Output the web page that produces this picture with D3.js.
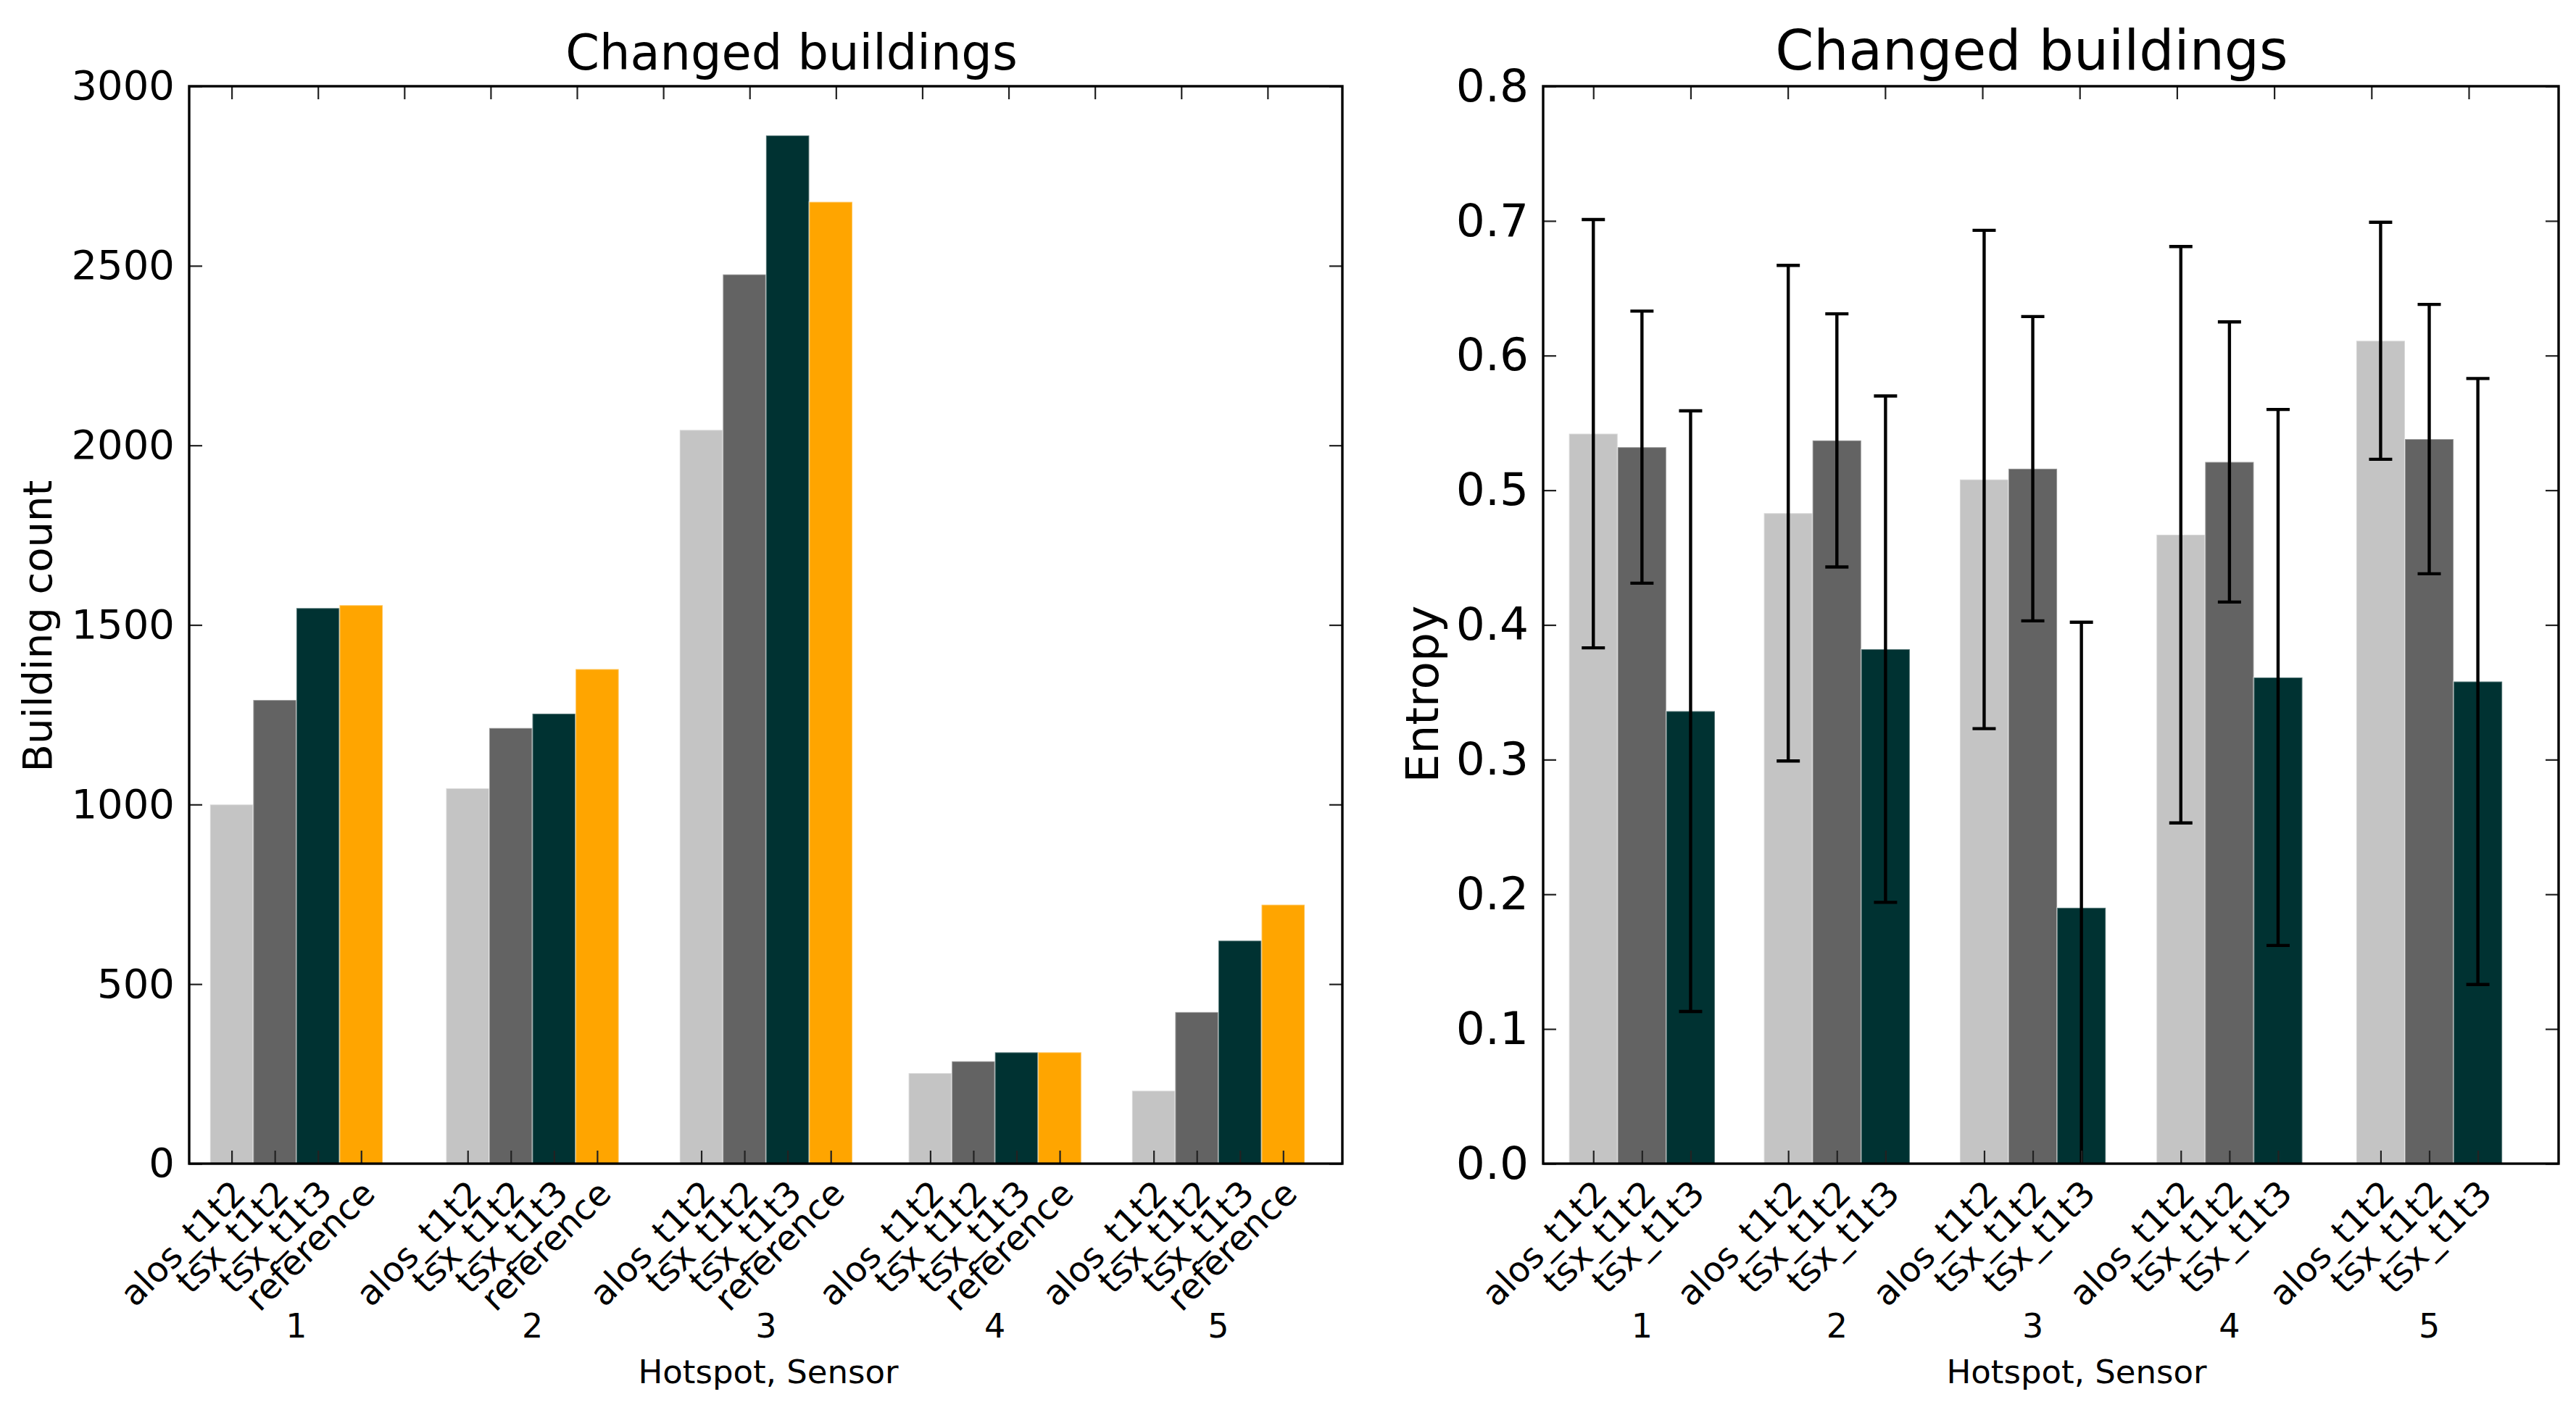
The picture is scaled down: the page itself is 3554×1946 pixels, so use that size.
<!DOCTYPE html>
<html>
<head>
<meta charset="utf-8">
<script src="https://cdn.jsdelivr.net/npm/d3@7"></script>
<style>
  body { margin: 0; background: #ffffff; }
  text { font-family: "DejaVu Sans", sans-serif; fill: #000; }
</style>
</head>
<body>
<div id="chart"></div>
<script>
// Data
const HOTSPOTS = ["1", "2", "3", "4", "5"];
const SENSORS_COUNT = ["alos_t1t2", "tsx_t1t2", "tsx_t1t3", "reference"];
const SENSORS_ENTROPY = ["alos_t1t2", "tsx_t1t2", "tsx_t1t3"];

// Building counts per hotspot
const COUNT_ALOS_T1T2 = [1000, 1045, 2043, 252, 203];
const COUNT_TSX_T1T2 = [1291, 1213, 2476, 285, 422];
const COUNT_TSX_T1T3 = [1547, 1253, 2863, 310, 621];
const COUNT_REFERENCE = [1555, 1377, 2678, 310, 721];

// Entropy mean and spread per hotspot
const ENTROPY_ALOS_T1T2 = [0.542, 0.483, 0.508, 0.467, 0.611];
const ENTROPY_TSX_T1T2 = [0.532, 0.537, 0.516, 0.521, 0.538];
const ENTROPY_TSX_T1T3 = [0.336, 0.382, 0.190, 0.361, 0.358];
const ERR_ALOS_T1T2 = [0.159, 0.184, 0.185, 0.214, 0.088];
const ERR_TSX_T1T2 = [0.101, 0.094, 0.113, 0.104, 0.100];
const ERR_TSX_T1T3 = [0.223, 0.188, 0.212, 0.199, 0.225];

// x position (data units) of the first bar of every hotspot group
const HOTSPOT_X_COUNT = [0, 1.367, 2.720, 4.046, 5.340];
const HOTSPOT_X_ENTROPY = [0, 1.002, 2.009, 3.020, 4.047];

// Axis ticks
const COUNT_TICKS = [0, 500, 1000, 1500, 2000, 2500, 3000];
const ENTROPY_TICKS = [0.0, 0.1, 0.2, 0.3, 0.4, 0.5, 0.6, 0.7, 0.8];

// Frame and style settings
const FRAME_WIDTH = 3554;
const FRAME_HEIGHT = 1946;
const BAR_WIDTH = 0.25;
const COLORS = ["#c4c4c4", "#636363", "#003232", "#ffa500"];
const TICK_LEN = 18;

const SVG = d3.select("#chart")
  .append("svg")
    .attr("width", FRAME_WIDTH)
    .attr("height", FRAME_HEIGHT);

function drawPanel(p) {
  const X = d3.scaleLinear().domain(p.xDomain).range([p.left, p.right]);
  const Y = d3.scaleLinear().domain(p.yDomain).range([p.bottom, p.top]);

  const g = SVG.append("g");

  // clip for error bars running below zero
  const clipId = "clip" + p.id;
  g.append("clipPath").attr("id", clipId)
    .append("rect")
      .attr("x", p.left).attr("y", p.top)
      .attr("width", p.right - p.left).attr("height", p.bottom - p.top);

  // flatten the series into bar records
  const bars = [];
  p.series.forEach((s, si) => {
    s.values.forEach((v, hi) => {
      bars.push({
        si: si, hi: hi, value: v,
        err: s.err ? s.err[hi] : null,
        cx: p.groupX[hi] + si * BAR_WIDTH,
        label: p.sensors[si]
      });
    });
  });

  g.selectAll("rect.bar")
    .data(bars)
    .enter()
    .append("rect")
      .attr("class", "bar")
      .attr("x", d => X(d.cx - BAR_WIDTH / 2))
      .attr("width", d => X(d.cx + BAR_WIDTH / 2) - X(d.cx - BAR_WIDTH / 2))
      .attr("y", d => Y(d.value))
      .attr("height", d => Y(0) - Y(d.value))
      .attr("fill", d => COLORS[d.si])
      .attr("stroke", "rgba(255,255,255,0.35)")
      .attr("stroke-width", 2);

  // error bars
  const errBars = bars.filter(d => d.err !== null);
  const eg = g.append("g").attr("clip-path", "url(#" + clipId + ")")
    .attr("stroke", "#000").attr("stroke-width", 4.4);
  eg.selectAll("line.err")
    .data(errBars).enter().append("line")
      .attr("x1", d => X(d.cx)).attr("x2", d => X(d.cx))
      .attr("y1", d => Y(d.value - d.err)).attr("y2", d => Y(d.value + d.err));
  eg.selectAll("line.capTop")
    .data(errBars).enter().append("line")
      .attr("x1", d => X(d.cx) - 16).attr("x2", d => X(d.cx) + 16)
      .attr("y1", d => Y(d.value + d.err)).attr("y2", d => Y(d.value + d.err));
  eg.selectAll("line.capBot")
    .data(errBars).enter().append("line")
      .attr("x1", d => X(d.cx) - 16).attr("x2", d => X(d.cx) + 16)
      .attr("y1", d => Y(d.value - d.err)).attr("y2", d => Y(d.value - d.err));

  // y axes (left with labels, right ticks only)
  const yLeft = g.append("g")
    .attr("transform", "translate(" + p.left + ",0)")
    .call(d3.axisLeft(Y).tickValues(p.yTicks).tickSize(-TICK_LEN).tickPadding(20)
      .tickFormat(p.yFormat));
  yLeft.selectAll("text").attr("font-size", p.tickFont + "px")
    .attr("font-family", "DejaVu Sans").attr("fill", "#000");

  g.append("g")
    .attr("transform", "translate(" + p.right + ",0)")
    .call(d3.axisRight(Y).tickValues(p.yTicks).tickSize(-TICK_LEN).tickFormat(""));

  // top axis, plain half-unit ticks
  g.append("g")
    .attr("transform", "translate(0," + p.top + ")")
    .call(d3.axisTop(X).tickValues(d3.range(0, p.xDomain[1], 0.5))
      .tickSize(-TICK_LEN).tickFormat(""));

  // bottom axis, one tick per bar
  g.append("g")
    .attr("transform", "translate(0," + p.bottom + ")")
    .call(d3.axisBottom(X).tickValues(bars.map(d => d.cx))
      .tickSize(-TICK_LEN).tickFormat(""));

  g.selectAll(".domain").remove();
  g.selectAll(".tick line").attr("stroke", "#222").attr("stroke-width", 2.2);

  // frame
  g.append("rect")
    .attr("x", p.left).attr("y", p.top)
    .attr("width", p.right - p.left).attr("height", p.bottom - p.top)
    .attr("fill", "none").attr("stroke", "#000").attr("stroke-width", 3.4);

  // rotated sensor labels
  g.selectAll("text.sensor")
    .data(bars).enter().append("text")
      .attr("class", "sensor")
      .attr("text-anchor", "end")
      .attr("font-size", "48px")
      .attr("transform", d => "translate(" + (X(d.cx) + 22) + "," + (p.bottom + 44) + ") rotate(-45)")
      .text(d => d.label);

  // hotspot numbers
  g.selectAll("text.hotspot")
    .data(HOTSPOTS).enter().append("text")
      .attr("class", "hotspot")
      .attr("text-anchor", "middle")
      .attr("font-size", "46px")
      .attr("x", (d, i) => X(p.groupX[i] + (p.series.length - 1) * BAR_WIDTH / 2))
      .attr("y", 1846)
      .text(d => d);

  g.append("text")
    .attr("text-anchor", "middle").attr("font-size", "45px")
    .attr("x", p.xLabelX).attr("y", 1909)
    .text("Hotspot, Sensor");

  g.append("text")
    .attr("text-anchor", "middle").attr("font-size", p.titleFont + "px")
    .attr("x", p.titleX).attr("y", 96)
    .text("Changed buildings");

  g.append("text")
    .attr("text-anchor", "middle").attr("font-size", p.tickFont + "px")
    .attr("transform", "translate(" + p.yLabelX + "," + p.yLabelY + ") rotate(-90)")
    .text(p.yLabel);
}

drawPanel({
  id: "count",
  left: 261, right: 1852, top: 119, bottom: 1606,
  xDomain: [-0.246, 6.433], yDomain: [0, 3000],
  yTicks: COUNT_TICKS, yFormat: d3.format("d"),
  groupX: HOTSPOT_X_COUNT, sensors: SENSORS_COUNT,
  series: [
    {values: COUNT_ALOS_T1T2},
    {values: COUNT_TSX_T1T2},
    {values: COUNT_TSX_T1T3},
    {values: COUNT_REFERENCE}
  ],
  tickFont: 56, titleFont: 67, titleX: 1092,
  xLabelX: 1060, yLabel: "Building count", yLabelX: 71, yLabelY: 864
});

drawPanel({
  id: "entropy",
  left: 2129, right: 3530, top: 119, bottom: 1606,
  xDomain: [-0.258, 4.962], yDomain: [0, 0.8],
  yTicks: ENTROPY_TICKS, yFormat: d3.format(".1f"),
  groupX: HOTSPOT_X_ENTROPY, sensors: SENSORS_ENTROPY,
  series: [
    {values: ENTROPY_ALOS_T1T2, err: ERR_ALOS_T1T2},
    {values: ENTROPY_TSX_T1T2, err: ERR_TSX_T1T2},
    {values: ENTROPY_TSX_T1T3, err: ERR_TSX_T1T3}
  ],
  tickFont: 63, titleFont: 76, titleX: 2803,
  xLabelX: 2865, yLabel: "Entropy", yLabelX: 1984, yLabelY: 958
});
</script>
</body>
</html>
